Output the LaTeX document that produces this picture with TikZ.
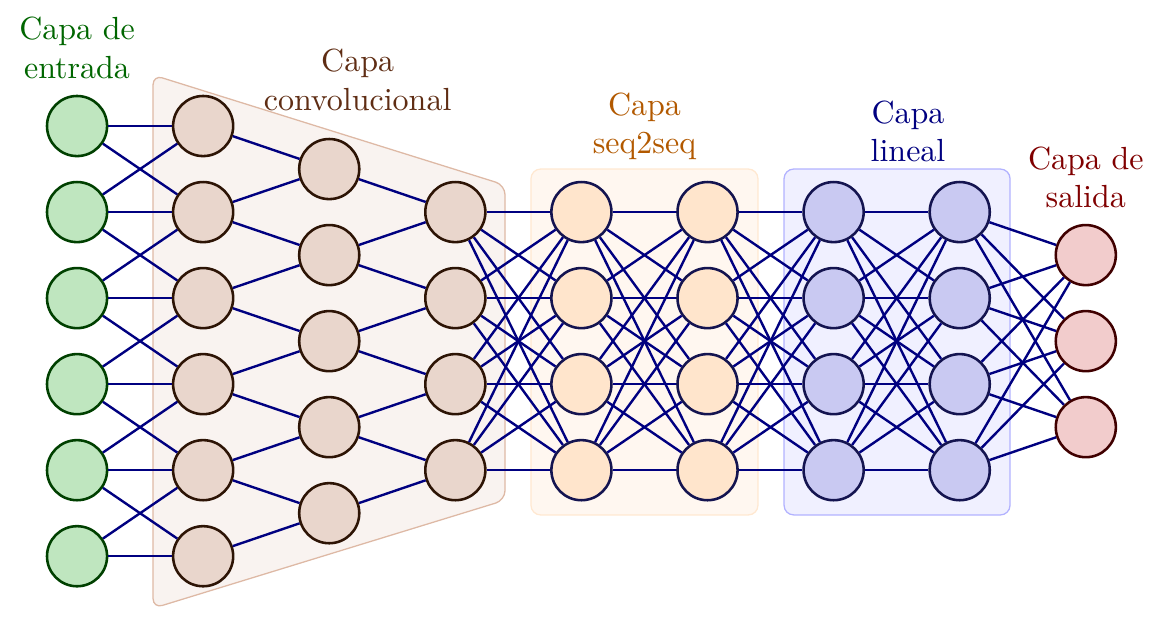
\documentclass[tikz,border=0pt]{standalone}
\usepackage{xcolor}
\usepackage{tikz}

\colorlet{enlacecol}{blue!50!black}
\definecolor{bordeazul}{RGB}{20,20,80}
\definecolor{convfill}{RGB}{233,214,204}
\definecolor{convborde}{RGB}{45,20,5}
\definecolor{convtexto}{RGB}{95,45,20}
\definecolor{convfondo}{RGB}{249,243,240}
\definecolor{convmarco}{RGB}{222,185,165}
\definecolor{linfill}{RGB}{201,201,242}
\definecolor{salfill}{RGB}{242,204,204}

\begin{document}
\begin{tikzpicture}[
          x=1.385cm, y=-0.945cm,
          neurona/.style={
              circle, draw, line width=0.8pt,
              minimum size=0.66cm, inner sep=0pt
            },
          entrada/.style={neurona, fill=green!60!black!25, draw=green!25!black},
          conv/.style={neurona, fill=convfill, draw=convborde},
          seq/.style={neurona, fill=orange!20, draw=bordeazul},
          lineal/.style={neurona, fill=linfill, draw=bordeazul},
          salida/.style={neurona, fill=salfill, draw=red!25!black},
          enlace/.style={draw=enlacecol, line width=0.75pt},
          titulo/.style={align=center}
        ]
        \useasboundingbox (-0.611,-1.465) rectangle (8.620,5.756);

        % fondos de las capas
        \draw[rounded corners=3pt, fill=convfondo, draw=convmarco]
        (0.603,-0.593) -- (3.394,0.686) -- (3.394,4.349) -- (0.603,5.605) -- cycle;
        \draw[rounded corners=3pt, fill=orange!6, draw=orange!18]
        (3.6,0.5) rectangle (5.4,4.52);
        \draw[rounded corners=3pt, fill=blue!6, draw=blue!30]
        (5.607,0.5) rectangle (7.399,4.52);

        % neuronas
        \foreach \i in {1,...,6} \node[entrada] (e-\i) at (0,\i-1) {};
        \foreach \i in {1,...,6} \node[conv] (c1-\i) at (1,\i-1) {};
        \foreach \i in {1,...,5} \node[conv] (c2-\i) at (2,\i-0.5) {};
        \foreach \i in {1,...,4} {
            \node[conv] (c3-\i) at (3,\i) {};
            \node[seq] (s1-\i) at (4,\i) {};
            \node[seq] (s2-\i) at (5,\i) {};
            \node[lineal] (l1-\i) at (6,\i) {};
            \node[lineal] (l2-\i) at (7,\i) {};
          }
        \foreach \i in {1,...,3} \node[salida] (o-\i) at (8,\i+0.5) {};

        % conexiones locales (entrada y convolucion)
        \foreach \i in {1,...,6}
        \foreach \j in {1,...,6} {
            \pgfmathtruncatemacro\dist{abs(\i-\j)}
            \ifnum\dist<2 \draw[enlace] (e-\i) -- (c1-\j); \fi
          }
        \foreach \k [evaluate=\k as \n using int(\k+1)] in {1,...,5} {
            \draw[enlace] (c1-\k) -- (c2-\k);
            \draw[enlace] (c1-\n) -- (c2-\k);
          }
        \foreach \k [evaluate=\k as \n using int(\k+1)] in {1,...,4} {
            \draw[enlace] (c2-\k) -- (c3-\k);
            \draw[enlace] (c2-\n) -- (c3-\k);
          }

        % conexiones completas
        \foreach \a/\b in {c3/s1, s1/s2, s2/l1, l1/l2}
        \foreach \i in {1,...,4}
        \foreach \j in {1,...,4} \draw[enlace] (\a-\i) -- (\b-\j);
        \foreach \i in {1,...,4}
        \foreach \j in {1,...,3} \draw[enlace] (l2-\i) -- (o-\j);

        % titulos
        \node[titulo, text=green!40!black] (t-entrada) at (0,-0.907) {Capa de\\entrada};
        \node[titulo, text=convtexto] (t-conv) at (2.225,-0.535) {Capa\\convolucional};
        \node[titulo, text=orange!70!black] (t-seq) at (4.5,0) {Capa\\seq2seq};
        \node[titulo, text=enlacecol] (t-lineal) at (6.59,0.06) {Capa\\lineal};
        \node[titulo, text=red!50!black] (t-salida) at (8,0.6) {Capa de\\salida};

      \end{tikzpicture}
\end{document}
